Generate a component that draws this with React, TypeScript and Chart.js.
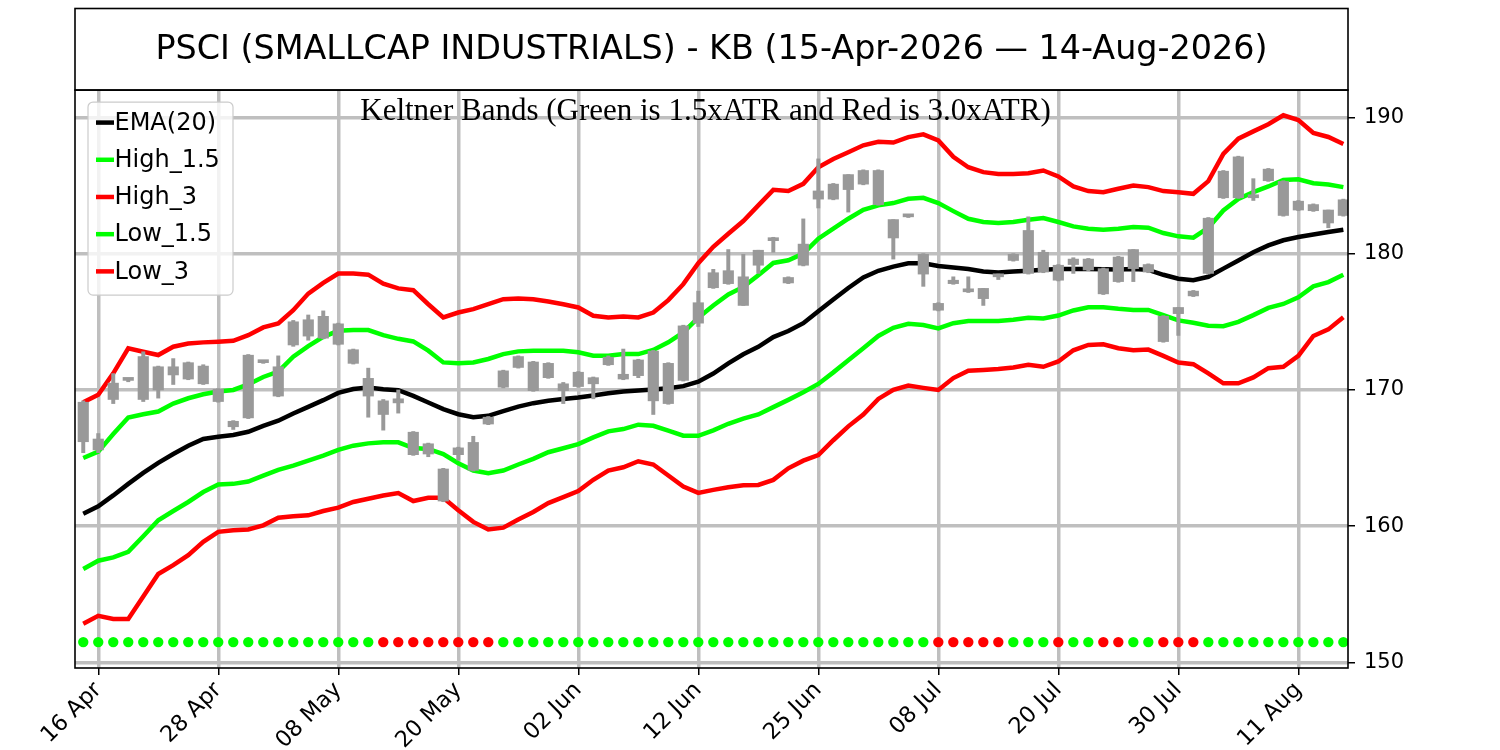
import { useEffect, useRef } from "react";
import { Chart, registerables } from "chart.js";
Chart.register(...registerables);

const titleText = "PSCI (SMALLCAP INDUSTRIALS) - KB (15-Apr-2026 \u2014 14-Aug-2026)";
const subtitleText = "Keltner Bands (Green is 1.5xATR and Red is 3.0xATR)";

const dates = [
  "15 Apr", "16 Apr", "17 Apr", "20 Apr", "21 Apr", "22 Apr", "23 Apr", "24 Apr", "27 Apr", "28 Apr",
  "29 Apr", "30 Apr", "01 May", "04 May", "05 May", "06 May", "07 May", "08 May", "11 May", "12 May",
  "13 May", "14 May", "15 May", "18 May", "19 May", "20 May", "21 May", "22 May", "26 May", "27 May",
  "28 May", "29 May", "01 Jun", "02 Jun", "03 Jun", "04 Jun", "05 Jun", "08 Jun", "09 Jun", "10 Jun",
  "11 Jun", "12 Jun", "15 Jun", "16 Jun", "17 Jun", "18 Jun", "22 Jun", "23 Jun", "24 Jun", "25 Jun",
  "26 Jun", "29 Jun", "30 Jun", "01 Jul", "02 Jul", "06 Jul", "07 Jul", "08 Jul", "09 Jul", "10 Jul",
  "13 Jul", "14 Jul", "15 Jul", "16 Jul", "17 Jul", "20 Jul", "21 Jul", "22 Jul", "23 Jul", "24 Jul",
  "27 Jul", "28 Jul", "29 Jul", "30 Jul", "31 Jul", "03 Aug", "04 Aug", "05 Aug", "06 Aug", "07 Aug",
  "10 Aug", "11 Aug", "12 Aug", "13 Aug", "14 Aug",
];

const xTickIndices = [1, 9, 17, 25, 33, 41, 49, 57, 65, 73, 81];
const yTicks = [150, 160, 170, 180, 190];

const open = [
  169.1, 165.6, 169.3, 170.75, 172.45, 170.0, 171.1, 170.8, 171.75, 170.05,
  167.7, 167.95, 172.05, 169.55, 173.3, 173.95, 175.4, 174.85, 172.95, 170.85,
  169.2, 169.05, 166.9, 166.05, 164.2, 165.25, 164.1, 167.5, 170.2, 171.65,
  172.05, 170.9, 170.45, 170.25, 170.9, 171.85, 171.15, 172.2, 172.85, 169.0,
  170.7, 174.9, 177.5, 177.8, 178.3, 179.15, 180.95, 178.25, 179.15, 184.0,
  184.0, 184.7, 185.1, 186.1, 182.5, 182.75, 179.95, 176.35, 177.8, 177.4,
  177.45, 178.3, 179.5, 178.55, 180.1, 179.15, 179.2, 179.6, 178.9, 177.95,
  178.9, 179.2, 175.4, 175.6, 176.9, 178.55, 184.1, 187.1, 184.3, 185.35,
  185.3, 183.85, 183.15, 183.2, 182.8,
];
const high = [
  169.2, 166.8, 171.2, 170.85, 172.8, 171.75, 172.3, 172.05, 171.85, 170.1,
  167.75, 172.6, 172.1, 172.5, 175.1, 175.5, 175.8, 174.9, 173.0, 171.6,
  169.3, 170.0, 166.95, 166.1, 164.25, 165.8, 166.6, 168.05, 171.45, 172.5,
  172.1, 172.0, 170.55, 171.35, 170.95, 172.5, 173.0, 172.25, 172.9, 172.0,
  174.75, 177.25, 178.85, 180.3, 179.95, 180.25, 181.2, 178.3, 182.55, 186.95,
  185.15, 185.8, 186.15, 186.15, 182.5, 182.8, 180.0, 176.4, 178.3, 178.3,
  177.45, 178.5, 180.0, 182.7, 180.25, 179.2, 179.7, 179.65, 178.95, 179.8,
  180.3, 179.25, 175.45, 176.05, 177.3, 182.65, 186.1, 187.15, 185.5, 186.25,
  185.35, 183.9, 183.65, 183.2, 184.0,
];
const low = [
  165.4, 165.4, 169.0, 170.6, 169.15, 169.4, 170.4, 170.75, 170.4, 169.1,
  167.1, 167.9, 171.95, 169.5, 173.2, 173.65, 173.75, 173.3, 171.9, 168.0,
  167.05, 168.3, 165.2, 165.1, 161.8, 164.85, 164.05, 167.45, 170.15, 171.6,
  169.9, 170.85, 169.0, 170.2, 169.35, 171.8, 170.75, 170.9, 168.2, 168.95,
  170.65, 174.65, 177.45, 177.75, 176.2, 178.55, 180.1, 177.8, 179.1, 183.35,
  183.95, 183.05, 185.05, 183.55, 179.6, 182.65, 177.6, 175.8, 177.75, 177.15,
  176.2, 178.1, 179.45, 178.5, 178.6, 178.0, 178.55, 178.75, 177.0, 177.9,
  177.95, 178.6, 173.5, 174.0, 176.85, 178.5, 184.05, 184.05, 183.9, 185.3,
  182.75, 183.15, 183.1, 181.9, 182.75,
];
const close = [
  166.2, 166.4, 170.5, 170.7, 169.3, 171.7, 171.7, 172.0, 170.45, 169.15,
  167.3, 172.55, 172.0, 171.7, 175.0, 175.15, 173.8, 173.35, 171.95, 169.55,
  168.2, 169.35, 165.25, 165.3, 161.85, 165.75, 166.15, 168.0, 171.4, 172.45,
  169.95, 171.95, 169.95, 171.3, 170.45, 172.4, 170.8, 171.05, 169.2, 171.95,
  174.7, 176.4, 178.6, 178.75, 176.2, 180.25, 181.15, 177.85, 180.7, 184.6,
  185.1, 185.8, 186.1, 183.6, 181.15, 182.7, 178.5, 175.85, 178.05, 177.2,
  176.7, 178.5, 179.95, 181.7, 178.65, 178.05, 179.6, 178.8, 177.05, 179.75,
  180.3, 178.65, 173.55, 176.05, 177.25, 182.6, 186.05, 184.1, 184.1, 186.2,
  182.8, 183.2, 183.6, 182.25, 183.95,
];

const ema20 = [
  160.92, 161.46, 162.26, 163.11, 163.92, 164.65, 165.3, 165.91, 166.4, 166.57,
  166.69, 166.93, 167.37, 167.74, 168.27, 168.76, 169.25, 169.78, 170.07, 170.17,
  170.05, 169.98, 169.56, 169.08, 168.59, 168.22, 168.0, 168.1, 168.45, 168.78,
  169.03, 169.21, 169.33, 169.45, 169.6, 169.75, 169.89, 169.96, 170.03, 170.13,
  170.28, 170.6, 171.2, 171.95, 172.62, 173.16, 173.88, 174.32, 174.9, 175.78,
  176.63, 177.48, 178.25, 178.74, 179.05, 179.3, 179.3, 179.1, 178.98, 178.88,
  178.69, 178.62, 178.69, 178.74, 178.81, 178.88, 178.88, 178.88, 178.86, 178.83,
  178.88, 178.81, 178.45, 178.16, 178.05, 178.3, 178.9, 179.5, 180.1, 180.6,
  180.98, 181.22, 181.41, 181.59, 181.76,
];
const high15 = [
  165.01, 165.47, 166.76, 167.98, 168.22, 168.42, 169.0, 169.39, 169.68, 169.88,
  170.0, 170.41, 170.95, 171.35, 172.44, 173.22, 173.9, 174.34, 174.39, 174.39,
  174.02, 173.75, 173.56, 172.88, 172.02, 171.95, 172.02, 172.27, 172.63, 172.83,
  172.88, 172.88, 172.88, 172.76, 172.51, 172.51, 172.63, 172.63, 172.93, 173.49,
  174.22, 175.3, 176.2, 177.0, 177.56, 178.41, 179.32, 179.51, 180.0, 181.1,
  181.83, 182.56, 183.22, 183.54, 183.71, 184.02, 184.1, 183.71, 183.12, 182.56,
  182.32, 182.24, 182.32, 182.49, 182.61, 182.32, 182.0, 181.83, 181.76, 181.83,
  181.95, 181.9, 181.51, 181.27, 181.17, 181.9, 183.17, 184.02, 184.51, 184.93,
  185.41, 185.46, 185.17, 185.07, 184.88,
];
const high3 = [
  169.1, 169.65, 171.22, 173.05, 172.8, 172.56, 173.17, 173.41, 173.49, 173.54,
  173.61, 174.02, 174.59, 174.88, 175.85, 177.07, 177.85, 178.54, 178.54, 178.46,
  177.8, 177.45, 177.32, 176.29, 175.32, 175.68, 175.93, 176.29, 176.66, 176.71,
  176.66, 176.49, 176.29, 176.05, 175.44, 175.32, 175.39, 175.32, 175.68, 176.59,
  177.76, 179.3, 180.5, 181.46, 182.39, 183.54, 184.68, 184.59, 185.12, 186.34,
  186.95, 187.44, 187.95, 188.2, 188.15, 188.55, 188.75, 188.3, 187.1, 186.34,
  185.98, 185.85, 185.85, 185.9, 186.1, 185.66, 184.93, 184.59, 184.51, 184.76,
  185.0, 184.88, 184.59, 184.51, 184.39, 185.32, 187.32, 188.44, 188.97, 189.5,
  190.15, 189.8, 188.85, 188.56, 188.05,
];
const low15 = [
  156.86, 157.47, 157.71, 158.13, 159.27, 160.44, 161.12, 161.78, 162.51, 163.07,
  163.11, 163.28, 163.72, 164.14, 164.45, 164.82, 165.18, 165.6, 165.91, 166.08,
  166.16, 166.16, 165.74, 165.67, 165.3, 164.62, 164.09, 163.89, 164.09, 164.53,
  164.94, 165.43, 165.72, 166.03, 166.52, 166.96, 167.13, 167.45, 167.37, 167.01,
  166.64, 166.64, 167.04, 167.52, 167.89, 168.2, 168.74, 169.27, 169.83, 170.44,
  171.29, 172.18, 173.06, 173.96, 174.56, 174.85, 174.76, 174.51, 174.9, 175.05,
  175.05, 175.05, 175.15, 175.29, 175.24, 175.46, 175.83, 176.07, 176.07, 175.95,
  175.87, 175.87, 175.49, 175.1, 174.93, 174.71, 174.68, 175.0, 175.49, 176.02,
  176.31, 176.8, 177.6, 177.91, 178.45,
];
const low3 = [
  152.85, 153.43, 153.19, 153.19, 154.84, 156.5, 157.15, 157.88, 158.86, 159.59,
  159.71, 159.76, 160.07, 160.63, 160.73, 160.8, 161.12, 161.36, 161.78, 162.02,
  162.26, 162.43, 161.85, 162.09, 162.09, 161.17, 160.32, 159.76, 159.9, 160.49,
  161.05, 161.7, 162.14, 162.58, 163.41, 164.09, 164.33, 164.77, 164.53, 163.72,
  162.92, 162.45, 162.67, 162.86, 163.01, 163.03, 163.4, 164.25, 164.81, 165.22,
  166.31, 167.33, 168.2, 169.34, 170.0, 170.32, 170.15, 170.0, 170.87, 171.41,
  171.46, 171.53, 171.65, 171.84, 171.7, 172.09, 172.91, 173.3, 173.35, 173.06,
  172.91, 172.96, 172.5, 172.01, 171.89, 171.21, 170.49, 170.49, 170.92, 171.6,
  171.7, 172.5, 173.96, 174.44, 175.34,
];

// 1 = squeeze (red dot), 0 = no squeeze (green dot)
const squeezeOn = [
  0, 0, 0, 0, 0, 0, 0, 0, 0, 0, 0, 0, 0, 0, 0, 0, 0, 0, 0, 0,
  1, 1, 1, 1, 1, 1, 1, 1,
  0, 0, 0, 0, 0, 0, 0, 0, 0, 0, 0, 0, 0, 0, 0, 0, 0, 0, 0, 0, 0, 0, 0, 0, 0, 0, 0, 0, 0,
  1, 1, 1, 1, 1,
  0, 0, 0,
  1,
  0, 0,
  1, 1,
  0, 0,
  1, 1, 1,
  0, 0, 0, 0, 0, 0, 0, 0, 0, 0,
];
const dotLevel = [151.5];

const CANDLE = "#999999";
const GRID = "#bfbfbf";

const framePlugin = {
  id: "frameAndText",
  afterDatasetsDraw(chart: any) {
    const { ctx, chartArea } = chart;
    const { left, right, top } = chartArea;
    ctx.save();
    // subtitle inside plot
    ctx.fillStyle = "#000";
    ctx.font = "31px 'Liberation Serif'";
    ctx.textAlign = "center";
    ctx.textBaseline = "alphabetic";
    ctx.fillText(subtitleText, (left + right) / 2 - 6, top + 30);

    // legend
    const items = chart.data.datasets.filter((d: any) => d.inLegend);
    const lx = left + 13;
    const ly = top + 12;
    const lw = 145;
    const rowH = 37.2;
    const lh = 193;
    ctx.beginPath();
    if (ctx.roundRect) ctx.roundRect(lx, ly, lw, lh, 5);
    else ctx.rect(lx, ly, lw, lh);
    ctx.fillStyle = "rgba(255,255,255,0.8)";
    ctx.fill();
    ctx.lineWidth = 1.2;
    ctx.strokeStyle = "#cccccc";
    ctx.stroke();
    ctx.font = "24px 'DejaVu Sans'";
    ctx.textAlign = "left";
    ctx.textBaseline = "middle";
    items.forEach((d: any, i: number) => {
      const cy = ly + 20.5 + i * rowH;
      ctx.beginPath();
      ctx.moveTo(lx + 8, cy);
      ctx.lineTo(lx + 26, cy);
      ctx.lineWidth = 4.5;
      ctx.strokeStyle = d.borderColor;
      ctx.stroke();
      ctx.fillStyle = "#000";
      ctx.fillText(d.label, lx + 26.5, cy + 1);
    });
    ctx.restore();
  },
  afterDraw(chart: any) {
    const { ctx, chartArea } = chart;
    const { left, right, top, bottom } = chartArea;
    ctx.save();
    ctx.strokeStyle = "#000";
    ctx.lineWidth = 1.6;
    ctx.strokeRect(left, 8.5, right - left, top - 8.5);
    ctx.strokeRect(left, top, right - left, bottom - top);
    ctx.restore();
  },
};

export default function App() {
  const ref = useRef<HTMLCanvasElement>(null);
  useEffect(() => {
    document.body.style.margin = "0";
    const canvas = ref.current;
    if (!canvas) return;

    const lineDs = (label: string, values: number[], color: string, order: number) => ({
      type: "line" as const,
      label,
      data: values.map((v, i) => ({ x: i, y: v })),
      borderColor: color,
      backgroundColor: color,
      borderWidth: 4.5,
      pointRadius: 0,
      tension: 0,
      fill: false,
      order,
      inLegend: true,
    });

    const chart = new Chart(canvas, {
      type: "bar",
      data: {
        datasets: [
          {
            type: "line",
            label: "squeeze",
            data: squeezeOn.map((_, i) => ({ x: i, y: dotLevel[0] })),
            showLine: false,
            pointRadius: 5.2,
            pointBorderWidth: 0,
            pointBackgroundColor: squeezeOn.map((s) => (s ? "#ff0000" : "#00ff00")),
            order: 0,
          } as any,
          {
            type: "bar",
            label: "body",
            data: open.map((o, i) => ({ x: i, y: [Math.min(o, close[i]), Math.max(o, close[i])] })),
            backgroundColor: CANDLE,
            barThickness: 10.5,
            minBarLength: 3,
            grouped: false,
            borderWidth: 0,
            order: 1,
          } as any,
          {
            type: "bar",
            label: "wick",
            data: low.map((l, i) => ({ x: i, y: [l, high[i]] })),
            backgroundColor: CANDLE,
            barThickness: 3.3,
            minBarLength: 2,
            grouped: false,
            borderWidth: 0,
            order: 2,
          } as any,
          lineDs("EMA(20)", ema20, "#000000", 3),
          lineDs("High_1.5", high15, "#00ff00", 4),
          lineDs("High_3", high3, "#ff0000", 5),
          lineDs("Low_1.5", low15, "#00ff00", 6),
          lineDs("Low_3", low3, "#ff0000", 7),
        ] as any,
      },
      options: {
        animation: false,
        responsive: false,
        devicePixelRatio: 1,
        events: [],
        layout: { padding: { left: 75, right: 0, top: 0, bottom: 0 } },
        plugins: {
          legend: { display: false },
          tooltip: { enabled: false },
          title: {
            display: true,
            text: titleText,
            fullSize: false,
            color: "#000",
            font: { family: "'DejaVu Sans'", size: 33.4, weight: "normal" as any, lineHeight: 1.2 },
            padding: { top: 30, bottom: 20 },
          },
        },
        scales: {
          x: {
            type: "linear",
            min: -0.55,
            max: 84.31,
            offset: false,
            afterBuildTicks: (s: any) => {
              s.ticks = xTickIndices.map((v) => ({ value: v }));
            },
            afterFit: (s: any) => {
              s.height = 82;
            },
            ticks: {
              autoSkip: false,
              maxRotation: 45,
              minRotation: 45,
              padding: 2,
              color: "#000",
              font: { family: "'DejaVu Sans'", size: 22.5 },
              callback: (v: any) => dates[Math.round(Number(v))],
            },
            grid: {
              offset: false,
              color: GRID,
              lineWidth: 3.5,
              tickColor: "#000",
              tickWidth: 1.5,
              tickLength: 7,
            },
            border: { display: false },
          },
          y: {
            type: "linear",
            position: "right",
            min: 149.6,
            max: 192,
            afterBuildTicks: (s: any) => {
              s.ticks = yTicks.map((v) => ({ value: v }));
            },
            afterFit: (s: any) => {
              s.width = 152;
            },
            ticks: {
              padding: 9,
              color: "#000",
              font: { family: "'DejaVu Sans'", size: 21 },
            },
            grid: { color: GRID, lineWidth: 3.5, tickColor: "#000", tickWidth: 1.5, tickLength: 7 },
            border: { display: false },
          },
        },
      } as any,
      plugins: [framePlugin],
    });
    return () => chart.destroy();
  }, []);

  return (
    <div style={{ width: 1500, height: 750, background: "#fff" }}>
      <canvas ref={ref} width={1500} height={750} style={{ display: "block" }} />
    </div>
  );
}
